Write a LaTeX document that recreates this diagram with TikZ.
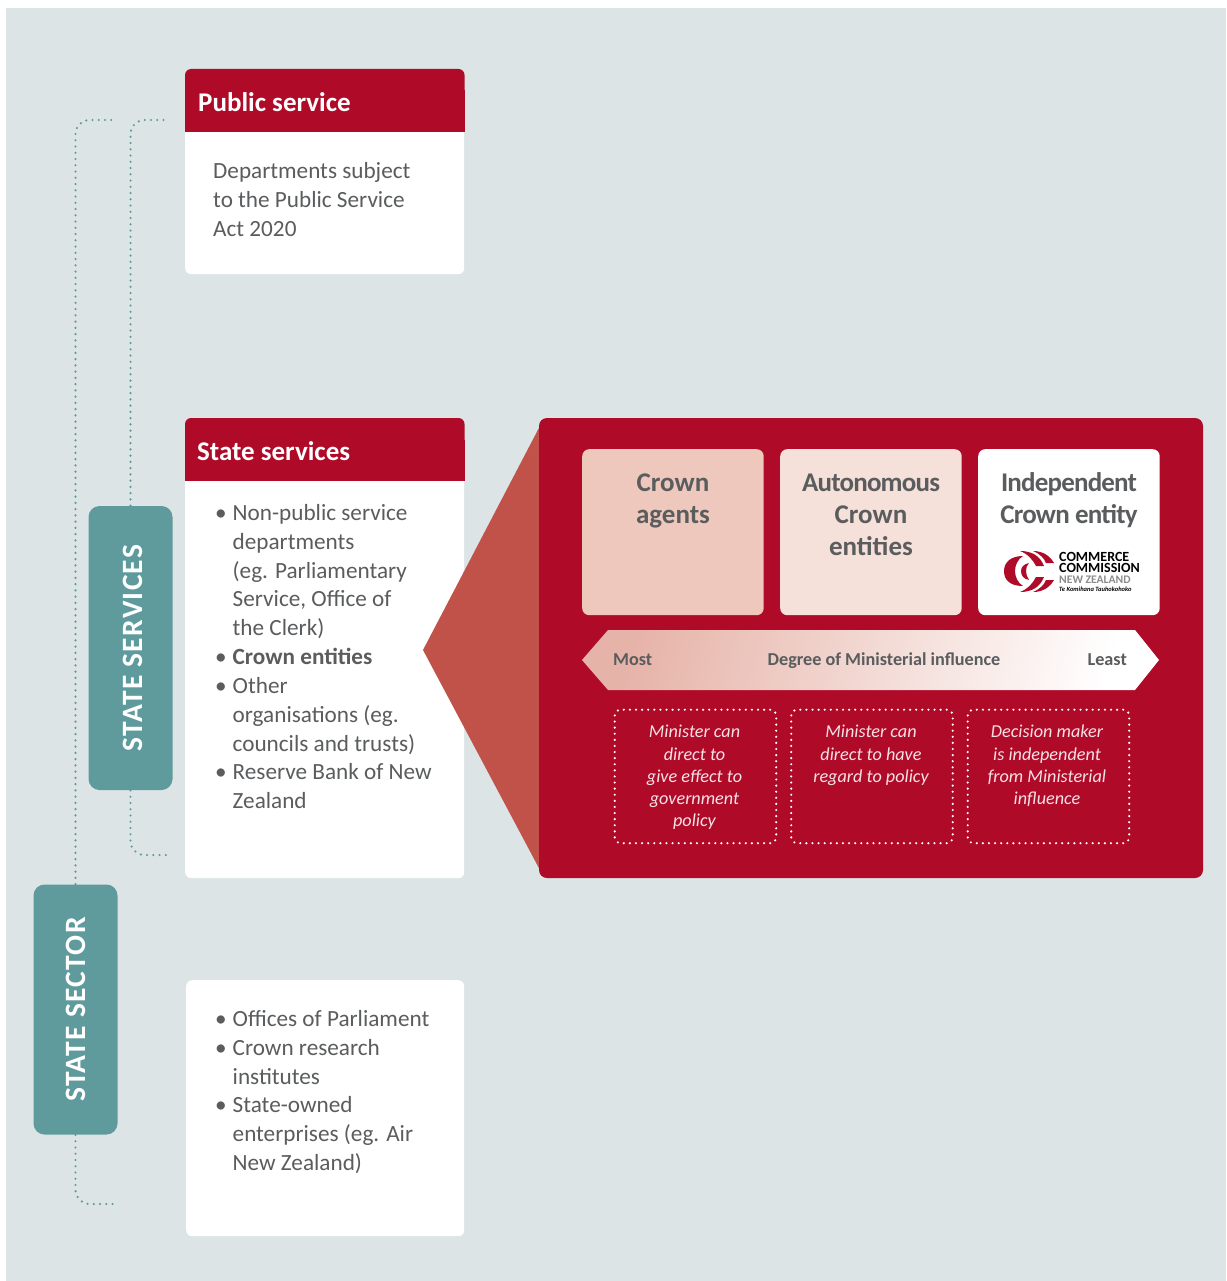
\documentclass[tikz,border=0pt]{standalone}
\usepackage{fontspec}
\setmainfont{Carlito}
\newfontfamily\tightf[LetterSpace=-3]{Carlito}
\newfontfamily\widef[LetterSpace=4.5]{Carlito}
\definecolor{crim}{HTML}{B00A29}
\definecolor{bgc}{HTML}{DCE4E6}
\definecolor{teal}{HTML}{5F9B9C}
\definecolor{txt}{HTML}{5A5C5E}
\definecolor{wedge}{HTML}{C1524A}
\definecolor{panA}{HTML}{EEC8BC}
\definecolor{panB}{HTML}{F5E0DA}
\definecolor{arrL}{HTML}{E6B3A8}
\definecolor{arrM}{HTML}{F0D2C9}
\newcommand\bl{\makebox[17.5pt][l]{\textbullet}}
\newcommand\nb{\hspace*{17.5pt}}
\tikzset{
  x=1pt,y=-1pt,
  whitebox/.style={draw=none,fill=white,rounded corners=6pt,minimum width=#1,inner sep=0pt,anchor=north west},
  headtext/.style={text=white,font=\fontsize{27}{32}\selectfont\bfseries,anchor=west,inner sep=0pt},
  bodytext/.style={text=txt,font=\fontsize{23.2}{28.85}\selectfont,align=left,anchor=north west,inner sep=0pt},
  sidebox/.style={fill=teal,rounded corners=11pt,text=white,font=\fontsize{29.5}{32}\widef\bfseries,inner sep=0pt,rotate=90,align=center},
  dots/.style={draw=teal,line width=2.4pt,line cap=round,dash pattern=on 0pt off 6.25pt,rounded corners=14pt},
  panel/.style={rounded corners=7pt,inner sep=0pt,anchor=north west},
  paneltext/.style={text=txt,font=\fontsize{27}{32}\selectfont\bfseries,align=center,anchor=north,inner sep=0pt},
  dotbox/.style={draw=white,line width=2.4pt,line cap=round,dash pattern=on 0pt off 6.1pt,rounded corners=6pt,anchor=north west,inner sep=0pt,minimum width=161.5pt,minimum height=133.5pt},
  dottext/.style={text=white!88!crim,font=\fontsize{18.2}{22.3}\selectfont\itshape,align=center,anchor=north,inner sep=0pt},
  arrowtext/.style={text=txt,font=\fontsize{18.2}{22}\selectfont\bfseries,inner sep=0pt},
  logotext/.style={anchor=north west,inner sep=0pt,align=left}
}
\begin{document}
\begin{tikzpicture}
\useasboundingbox (0,0) rectangle (1226,1281);
\fill[white] (0,0) rectangle (1226,1281);
\fill[bgc] (6,8) rectangle (1226,1281);

% white boxes
\node[whitebox=279pt,minimum height=205pt] (pubbox) at (185,69) {};
\node[whitebox=279pt,minimum height=460pt] (statebox) at (185,418) {};
\node[whitebox=278pt,minimum height=256pt] (otherbox) at (186,980) {};

% red wedge and panel
\fill[wedge] (423,650) -- (541,424) -- (541,872) -- cycle;
\fill[crim,rounded corners=8pt] (539,418) rectangle (1203,878);

% headers
\fill[crim,rounded corners=6pt] (185,69) rectangle (464.5,110);
\fill[crim] (185,90) rectangle (464.5,132);
\fill[crim,rounded corners=6pt] (185,418) rectangle (464.5,460);
\fill[crim] (185,440) rectangle (464.5,481);
\node[headtext] (pubhead) at (198,102) {Public service};
\node[headtext] (statehead) at (197,451) {State services};

% body text
\node[bodytext] (pubtext) at (213,162) {Departments subject\\to the Public Service\\Act 2020};
\node[bodytext] (statetext) at (215,504) {\bl Non-public service\\\nb departments\\\nb (eg. Parliamentary\\\nb Service, Office of\\\nb the Clerk)\\\bl\textbf{Crown entities}\\\bl Other\\\nb organisations (eg.\\\nb councils and trusts)\\\bl Reserve Bank of New\\\nb Zealand};
\node[bodytext] (othertext) at (215,1010) {\bl Offices of Parliament\\\bl Crown research\\\nb institutes\\\bl State-owned\\\nb enterprises (eg. Air\\\nb New Zealand)};

% side boxes and dotted brackets
\node[sidebox,minimum width=284pt,minimum height=84pt] (services) at (130.5,648) {\raisebox{-2.5pt}[19pt][0pt]{STATE SERVICES}};
\node[sidebox,minimum width=250pt,minimum height=84pt] (sector) at (75.5,1009.5) {\raisebox{0pt}[19pt][0pt]{STATE SECTOR}};
\coordinate (servT) at (168,120);
\coordinate (servB) at (168,855);
\coordinate (sectT) at (113,120);
\coordinate (sectB) at (113,1204);
\draw[dots] ([yshift=-6pt]services.east) -- (services.east |- servT) -- (servT);
\draw[dots] ([yshift=6pt]services.west) -- (services.west |- servB) -- (servB);
\draw[dots] ([yshift=-6pt]sector.east) -- (sector.east |- sectT) -- (sectT);
\draw[dots] ([yshift=6pt]sector.west) -- (sector.west |- sectB) -- (sectB);

% entity panels
\node[panel,fill=panA,minimum width=181.5pt,minimum height=166pt] (agents) at (582,449) {};
\node[panel,fill=panB,minimum width=181.5pt,minimum height=166pt] (auton) at (780,449) {};
\node[panel,fill=white,minimum width=181.5pt,minimum height=166pt] (indep) at (978,449) {};
\node[paneltext] (agentsT) at (673,474) {Crown\\agents};
\node[paneltext] (autonT) at (871,474) {{\tightf Autonomous}\\Crown\\entities};
\node[paneltext] (indepT) at (1069,472.5) {{\tightf Independent}\\{\tightf Crown entity}};

% logo
\fill[crim] (1023,556) .. controls (1010,556) and (1004,563) .. (1004,571) .. controls (1004,580) and (1010,586) .. (1023,586) .. controls (1018,583) and (1015,577) .. (1015,571) .. controls (1015,565) and (1018,559) .. (1023,556) -- cycle;
\fill[crim] (1029,563) .. controls (1024,564) and (1021,567) .. (1021,571) .. controls (1021,576) and (1024,579) .. (1029,580) .. controls (1027,577) and (1026,574) .. (1026,571) .. controls (1026,568) and (1027,565) .. (1029,563) -- cycle;
\fill[crim] (1020,551) .. controls (1032,551) and (1040,556) .. (1044,566) -- (1036,566) .. controls (1033,560) and (1028,554) .. (1020,551) -- cycle;
\fill[crim] (1033,551) .. controls (1043,551) and (1050,556) .. (1054,563) -- (1046,563) .. controls (1044,558) and (1040,554) .. (1033,551) -- cycle;
\fill[crim] (1020,592) .. controls (1032,592) and (1040,587) .. (1044,577) -- (1036,577) .. controls (1033,583) and (1028,589) .. (1020,592) -- cycle;
\fill[crim] (1033,592) .. controls (1043,592) and (1050,587) .. (1054,580) -- (1046,580) .. controls (1044,585) and (1040,589) .. (1033,592) -- cycle;
\node[logotext,text=black,font=\fontsize{14}{11}\selectfont\bfseries] (lg1) at (1059,552.5) {COMMERCE\\COMMISSION\\{\color{black!45}\fontsize{11.6}{11}\selectfont NEW ZEALAND}\\[-3pt]{\fontsize{6.5}{8}\selectfont\itshape Te Komihana Tauhokohoko}};

% influence arrow
\shade[left color=arrL,middle color=arrM,right color=white,shading angle=75] (582,660) -- (608,630) -- (1135,630) -- (1159,660) -- (1135,690) -- (608,690) -- cycle;
\node[arrowtext,anchor=west] (most) at (613,660) {Most};
\node[arrowtext] (degree) at (884,660.5) {Degree of Ministerial influence};
\node[arrowtext,anchor=east] (least) at (1127,660) {Least};

% dotted policy boxes
\node[dotbox] (d1) at (613.5,708.5) {};
\node[dotbox] (d2) at (790,708.5) {};
\node[dotbox] (d3) at (966.5,708.5) {};
\node[dottext] (d1t) at (694.5,725) {Minister can\\direct to\\give effect to\\government\\policy};
\node[dottext] (d2t) at (871,725) {Minister can\\direct to have\\regard to policy};
\node[dottext] (d3t) at (1047,725) {Decision maker\\is independent\\from Ministerial\\influence};
\end{tikzpicture}
\end{document}
